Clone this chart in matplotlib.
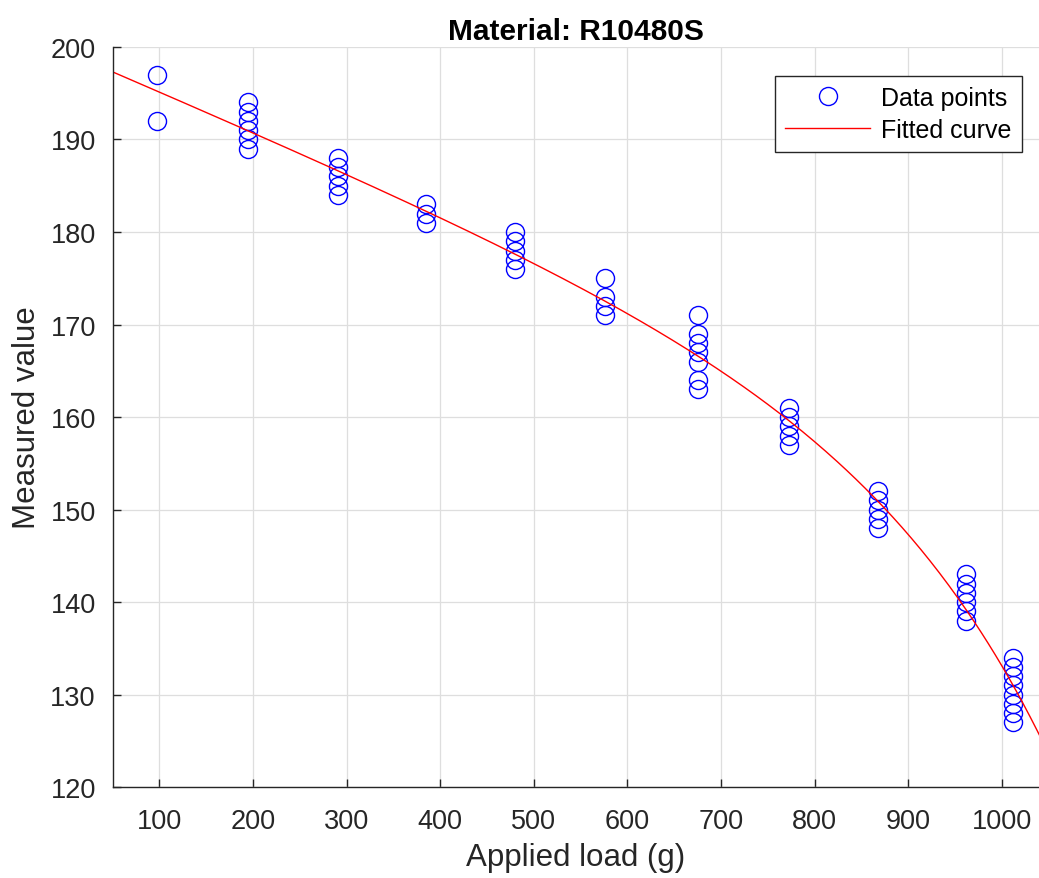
import numpy as np
import matplotlib.pyplot as plt

plt.rcParams['font.family'] = ['Liberation Sans', 'DejaVu Sans']

# applied loads (g) and measured values, one list per load group
loads = [98, 195, 291, 385, 480, 576, 675, 773, 868, 962, 1012]
values = [
    [197, 192],
    [194, 193, 192, 191, 190, 189],
    [188, 187, 186, 185, 184],
    [183, 182, 181],
    [180, 179, 178, 177, 176],
    [175, 173, 172, 171],
    [171, 169, 168, 167, 166, 164, 163],
    [161, 160, 159, 158, 157],
    [152, 151, 150, 149, 148],
    [143, 142, 141, 140, 139, 138],
    [134, 133, 132, 131, 130, 129, 128, 127],
]

x = np.concatenate([[l] * len(v) for l, v in zip(loads, values)])
y = np.concatenate(values)


# fit y = a + b*x + c*exp(k*x), scanning k and solving the rest by least squares
def design(xx, k):
    return np.column_stack([np.ones_like(xx, dtype=float), xx, np.exp(k * xx)])


best = None
for k in np.linspace(0.001, 0.012, 221):
    sol, res, *_ = np.linalg.lstsq(design(x, k), y, rcond=None)
    sse = np.sum((design(x, k) @ sol - y) ** 2)
    if best is None or sse < best[0]:
        best = (sse, k, sol)
_, k_fit, p_fit = best

xf = np.linspace(50, 1040, 400)
yf = design(xf, k_fit) @ p_fit

fig = plt.figure(figsize=(10.39, 8.79), dpi=100)
ax = fig.add_axes([0.1083, 0.1035, 0.892, 0.8419])

ax.plot(x, y, 'o', mfc='none', mec='blue', ms=13, mew=1.0, label='Data points')
ax.plot(xf, yf, '-', color='red', lw=1.0, label='Fitted curve')

ax.set_xlim(50, 1040)
ax.set_ylim(120, 200)
ax.set_xticks(range(100, 1001, 100))
ax.set_yticks(range(120, 201, 10))
ax.grid(True, color='#dedede', lw=0.9)
ax.set_axisbelow(True)
ax.tick_params(direction='in', labelsize=19.5, colors='#262626', length=6, width=1.0,
               top=False, right=False)
ax.tick_params(axis='x', pad=15)
ax.tick_params(axis='y', pad=12)
for s in ['top', 'right']:
    ax.spines[s].set_visible(False)
for s in ['left', 'bottom']:
    ax.spines[s].set_color('#262626')
    ax.spines[s].set_linewidth(1.0)

ax.set_title('Material: R10480S', fontsize=21.5, fontweight='bold', pad=6)
ax.set_xlabel('Applied load (g)', fontsize=22.5, color='#262626', labelpad=6)
ax.set_ylabel('Measured value', fontsize=22.5, color='#262626', labelpad=5.7)

leg = ax.legend(loc='upper right', bbox_to_anchor=(0.981, 0.961), borderaxespad=0,
                fontsize=18, fancybox=False, framealpha=1, edgecolor='#262626',
                handlelength=3.4, handletextpad=0.45, labelspacing=0.32, borderpad=0.4)
leg.get_frame().set_linewidth(1.0)

fig.savefig('out.png', dpi=100)
